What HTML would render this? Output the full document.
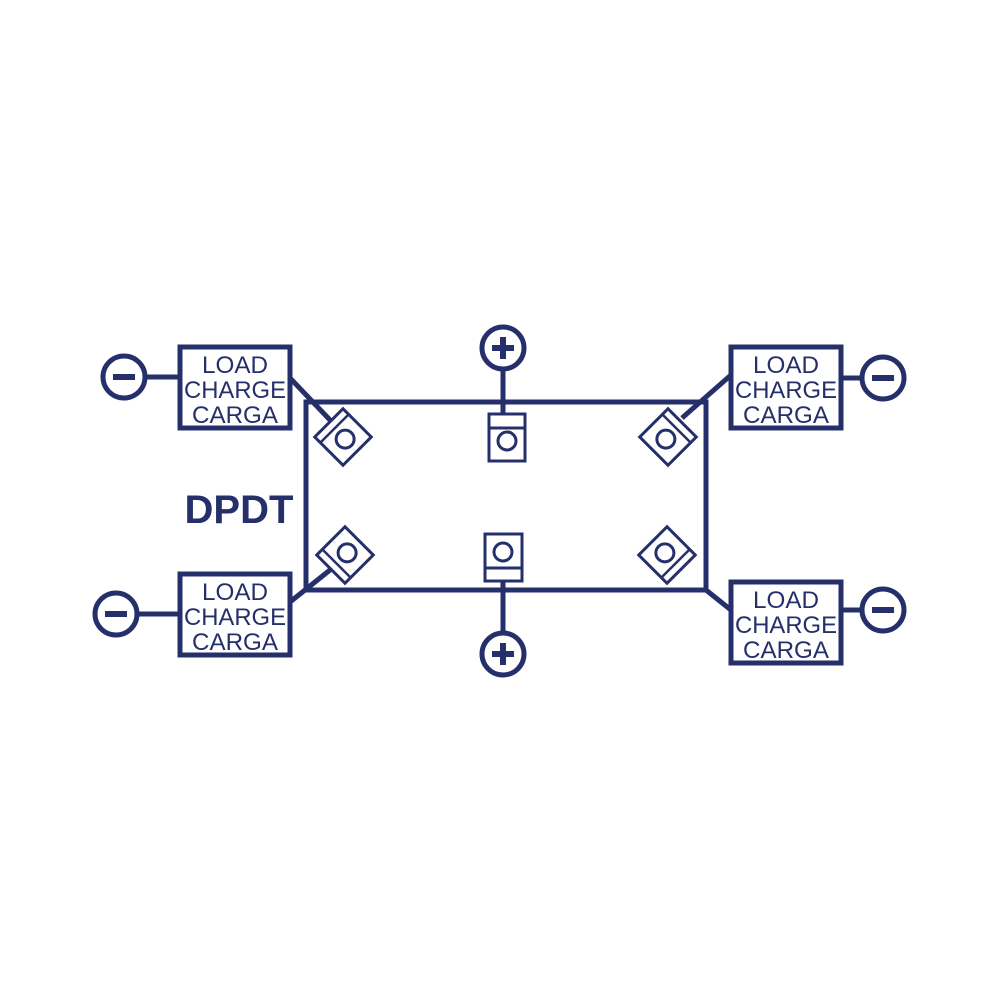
<!DOCTYPE html>
<html><head><style>body{margin:0;background:#fff}svg{display:block}</style></head><body>
<svg width="1000" height="1000" viewBox="0 0 1000 1000" xmlns="http://www.w3.org/2000/svg">
<defs>
<g id="t"><rect x="-20" y="-20" width="40" height="40" fill="#fff" stroke="#25306b" stroke-width="3"/><line x1="-20" y1="-12" x2="20" y2="-12" stroke="#25306b" stroke-width="2.5"/><circle cx="0" cy="3" r="9" fill="none" stroke="#25306b" stroke-width="3"/></g>
</defs>
<g stroke="#25306b" fill="none">
<rect x="306" y="402" width="400" height="188" stroke-width="5"/>
<g stroke-width="5">
<line x1="145" y1="377" x2="180" y2="377"/><line x1="137" y1="614" x2="180" y2="614"/>
<line x1="841" y1="378" x2="862" y2="378"/><line x1="841" y1="610" x2="862" y2="610"/>
<line x1="503" y1="369" x2="503" y2="414"/><line x1="503" y1="581" x2="503" y2="633"/>
<line x1="290" y1="378" x2="330" y2="420"/><line x1="731" y1="375" x2="682" y2="418"/>
<line x1="290" y1="602" x2="330" y2="570"/><line x1="706" y1="590" x2="731" y2="610"/>
<circle cx="124" cy="377" r="21"/><circle cx="116" cy="614" r="21"/>
<circle cx="883" cy="378" r="21"/><circle cx="883" cy="610" r="21"/>
<circle cx="503" cy="348" r="21"/><circle cx="503" cy="654" r="21"/>
</g>
<g stroke-width="5" fill="#fff">
<rect x="180" y="347" width="110" height="81"/><rect x="180" y="574" width="110" height="81"/>
<rect x="731" y="347" width="110" height="81"/><rect x="731" y="582" width="110" height="81"/>
</g>
<g stroke-width="6">
<line x1="113" y1="377" x2="135" y2="377"/><line x1="105" y1="614" x2="127" y2="614"/>
<line x1="872" y1="378" x2="894" y2="378"/><line x1="872" y1="610" x2="894" y2="610"/>
<line x1="492" y1="348" x2="514" y2="348"/><line x1="503" y1="337" x2="503" y2="359"/>
<line x1="492" y1="654" x2="514" y2="654"/><line x1="503" y1="643" x2="503" y2="665"/>
</g>
<g stroke-width="3" fill="#fff">
<rect x="489" y="414" width="36" height="47"/><line x1="489" y1="428" x2="525" y2="428"/><circle cx="507" cy="441" r="9"/>
<rect x="485" y="534" width="37" height="47"/><line x1="485" y1="568" x2="522" y2="568"/><circle cx="503" cy="552" r="9"/>
</g>
</g>
<use href="#t" transform="translate(343,437) rotate(-45)"/>
<use href="#t" transform="translate(668,437) rotate(45)"/>
<use href="#t" transform="translate(345,555) rotate(-135)"/>
<use href="#t" transform="translate(667,555) rotate(135)"/>
<g font-family="Liberation Sans, sans-serif" font-size="24" fill="#25306b" text-anchor="middle" lengthAdjust="spacingAndGlyphs">
<text x="235" y="373" textLength="66" lengthAdjust="spacingAndGlyphs">LOAD</text><text x="235" y="398" textLength="102" lengthAdjust="spacingAndGlyphs">CHARGE</text><text x="235" y="423" textLength="86" lengthAdjust="spacingAndGlyphs">CARGA</text>
<text x="235" y="600" textLength="66" lengthAdjust="spacingAndGlyphs">LOAD</text><text x="235" y="625" textLength="102" lengthAdjust="spacingAndGlyphs">CHARGE</text><text x="235" y="650" textLength="86" lengthAdjust="spacingAndGlyphs">CARGA</text>
<text x="786" y="373" textLength="66" lengthAdjust="spacingAndGlyphs">LOAD</text><text x="786" y="398" textLength="102" lengthAdjust="spacingAndGlyphs">CHARGE</text><text x="786" y="423" textLength="86" lengthAdjust="spacingAndGlyphs">CARGA</text>
<text x="786" y="608" textLength="66" lengthAdjust="spacingAndGlyphs">LOAD</text><text x="786" y="633" textLength="102" lengthAdjust="spacingAndGlyphs">CHARGE</text><text x="786" y="658" textLength="86" lengthAdjust="spacingAndGlyphs">CARGA</text>
<text x="239" y="523" font-size="40" font-weight="bold">DPDT</text>
</g>
</svg>
</body></html>
